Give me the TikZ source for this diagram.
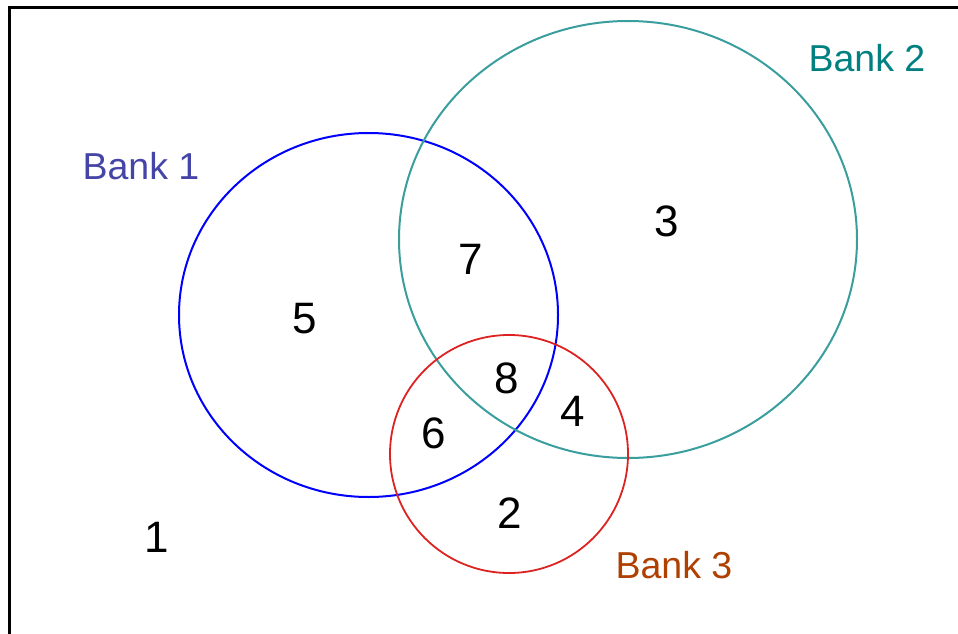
\documentclass[tikz,border=0pt]{standalone}
\usepackage{fontspec}
\setmainfont{Liberation Sans}
\definecolor{bankone}{HTML}{0000FF}
\definecolor{banktwo}{HTML}{3A9E9E}
\definecolor{bankthree}{HTML}{DD2222}
\definecolor{labone}{HTML}{4545A8}
\definecolor{labtwo}{HTML}{008080}
\definecolor{labthree}{HTML}{B04000}
\tikzset{
  setline/.style={line width=2pt},
  num/.style={font=\fontsize{44}{44}\selectfont, text=black, inner sep=0pt},
  lab/.style={font=\fontsize{37.5}{37.5}\selectfont, inner sep=0pt}
}
\begin{document}
\begin{tikzpicture}[x=1pt,y=-1pt]
\useasboundingbox (0,0) rectangle (958,634);
\clip (0,0) rectangle (958,634);
\draw[line width=2.2pt] (9.5,7.5) rectangle (1000,700);
\draw[setline, bankone] (368.5,315) ellipse [x radius=189.5, y radius=182];
\draw[setline, banktwo] (628,239.5) ellipse [x radius=229, y radius=218.5];
\draw[line width=1.8pt, bankthree] (509,454) ellipse [x radius=119, y radius=119];
\node[lab, text=labone] (l1) at (141,166) {Bank 1};
\node[lab, text=labtwo] (l2) at (867,58) {Bank 2};
\node[lab, text=labthree] (l3) at (674,565) {Bank 3};
\node[num] (n5) at (305,319) {5};
\node[num] (n7) at (471,259) {7};
\node[num] (n3) at (667,221) {3};
\node[num] (n8) at (507,378) {8};
\node[num] (n4) at (573,411) {4};
\node[num] (n6) at (434,433) {6};
\node[num] (n2) at (510,513) {2};
\node[num] (n1) at (157,537) {1};
\end{tikzpicture}
\end{document}
